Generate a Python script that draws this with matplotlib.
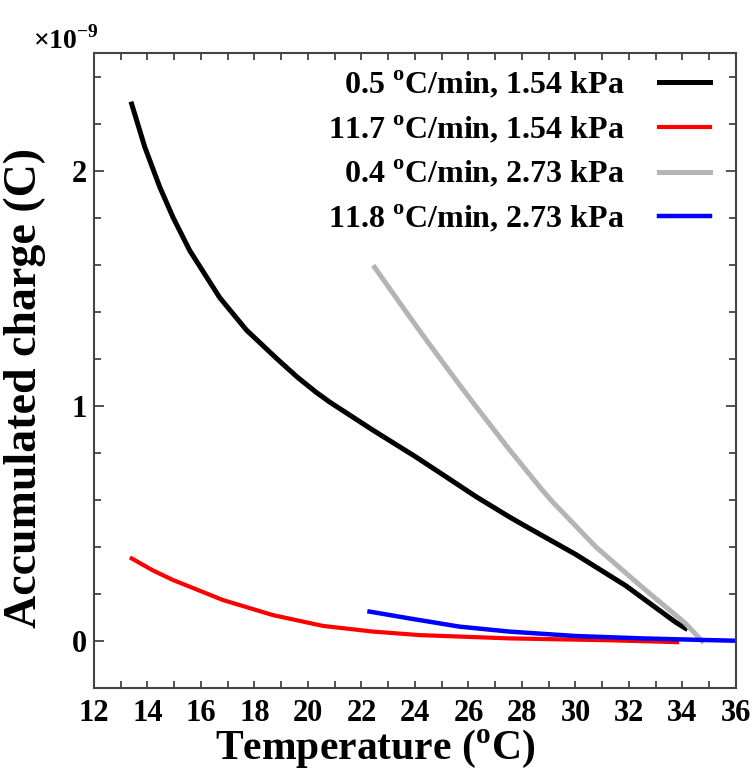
import matplotlib
matplotlib.use("Agg")
import matplotlib.pyplot as plt
from matplotlib.ticker import MultipleLocator

# Accumulated charge vs temperature, charge values in units of 1e-9 C
temp_black = [13.41, 13.90, 14.46, 14.96, 15.58, 16.70, 17.70, 18.82, 19.60, 20.30,
              20.81, 22.42, 24.00, 25.03, 26.28, 27.52, 28.15, 29.01, 30.01, 31.88,
              33.74, 34.11]
charge_black = [2.283, 2.100, 1.930, 1.800, 1.660, 1.460, 1.322, 1.202, 1.122, 1.058,
                1.016, 0.897, 0.785, 0.708, 0.614, 0.528, 0.487, 0.432, 0.368, 0.235,
                0.080, 0.054]

temp_red = [13.41, 14.20, 14.96, 16.82, 18.69, 20.56, 22.42, 24.16, 27.52, 31.25, 33.80]
charge_red = [0.351, 0.300, 0.259, 0.174, 0.110, 0.064, 0.040, 0.025, 0.011, 0.003, -0.005]

temp_gray = [22.49, 23.79, 24.41, 25.66, 26.28, 27.52, 28.77, 29.14, 30.76, 32.50,
             34.11, 34.73]
charge_gray = [1.589, 1.380, 1.282, 1.090, 0.997, 0.815, 0.640, 0.592, 0.400, 0.228,
               0.075, 0.000]

temp_blue = [22.30, 23.79, 25.66, 27.52, 30.01, 32.50, 34.50, 36.00]
charge_blue = [0.125, 0.096, 0.061, 0.040, 0.021, 0.011, 0.005, 0.001]

labels = [
    "0.5 $^{\\rm o}$C/min, 1.54 kPa",
    "11.7 $^{\\rm o}$C/min, 1.54 kPa",
    "0.4 $^{\\rm o}$C/min, 2.73 kPa",
    "11.8 $^{\\rm o}$C/min, 2.73 kPa",
]

plt.rcParams["font.family"] = "Liberation Serif"
plt.rcParams["font.weight"] = "bold"
plt.rcParams["axes.labelweight"] = "bold"
plt.rcParams["mathtext.fontset"] = "custom"
plt.rcParams["mathtext.rm"] = "Liberation Serif:bold"
plt.rcParams["mathtext.bf"] = "Liberation Serif:bold"

fig = plt.figure(figsize=(7.53, 7.72), dpi=100)
ax = fig.add_axes([0.1248, 0.1088, 0.8526, 0.8225])

ax.plot(temp_black, charge_black, color="black", lw=3.6, label=labels[0])
ax.plot(temp_red, charge_red, color="#ff0000", lw=3.0, label=labels[1])
ax.plot(temp_gray, charge_gray, color="#b4b4b4", lw=3.6, label=labels[2])
ax.plot(temp_blue, charge_blue, color="#0000ff", lw=3.2, label=labels[3])

ax.set_xlim(12, 36)
ax.set_ylim(-0.2, 2.5)
ax.xaxis.set_major_locator(MultipleLocator(2))
ax.xaxis.set_minor_locator(MultipleLocator(1))
ax.yaxis.set_major_locator(MultipleLocator(1))
ax.yaxis.set_minor_locator(MultipleLocator(0.2))

for s in ax.spines.values():
    s.set_color("#444444")
    s.set_linewidth(1.5)

ax.tick_params(axis="both", which="both", direction="in", top=True, right=True,
               color="#444444", width=1.3)
ax.tick_params(axis="x", which="major", length=5, labelsize=22, pad=8)
ax.tick_params(axis="x", which="minor", length=5)
ax.tick_params(axis="y", which="major", length=7, labelsize=22, pad=5)
ax.tick_params(axis="y", which="minor", length=5)

# longer ticks at 20 and 30
for tick in ax.xaxis.get_major_ticks():
    if tick.get_loc() in (20, 30):
        tick.tick1line.set_markersize(9)

ax.set_xlabel("Temperature ($^{\\rm o}$C)", fontsize=30)
ax.xaxis.set_label_coords(0.438, -0.063)
ax.set_ylabel("Accumulated charge (C)", fontsize=33)
ax.yaxis.set_label_coords(-0.075, 0.472)

ax.text(-0.095, 0.997, "\u00d710$^{-9}$", transform=ax.transAxes, fontsize=20,
        ha="left", va="bottom")

ax.legend(loc="upper right", bbox_to_anchor=(0.995, 1.01), frameon=False,
          markerfirst=False, fontsize=23, handlelength=1.6, handletextpad=1.1,
          labelspacing=0.42, borderpad=0.2)

fig.savefig("out.png", dpi=100)
